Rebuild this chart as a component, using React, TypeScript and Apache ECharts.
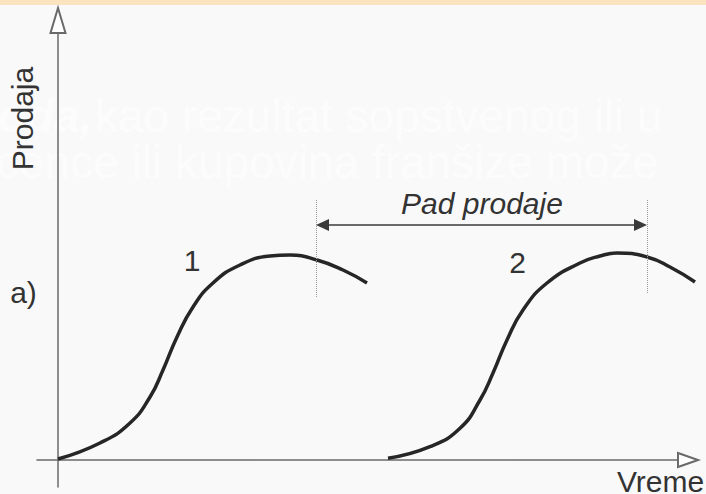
import React, { useEffect, useRef } from 'react';
import * as echarts from 'echarts';

// Product 1 sales curve (time, sales) in chart units
const curve1Time = [0, 4.2, 7.2, 9.2, 10.5, 11.9, 13.5, 15.5, 18.2, 21.2, 23.2, 25.9, 28.5, 30.9];
const curve1Sales = [0.1, 1.7, 3.7, 6.3, 9.0, 12.3, 15.3, 17.7, 19.5, 20.4, 20.5, 20.0, 19.0, 17.7];
// Product 2 sales curve
const curve2Time = [33.0, 37.2, 40.2, 42.2, 43.5, 44.9, 46.5, 48.9, 52.2, 54.2, 55.9, 58.9, 61.2, 63.7];
const curve2Sales = [0.17, 1.33, 3.17, 6.0, 8.7, 12.0, 15.0, 17.7, 19.7, 20.4, 20.7, 20.3, 19.3, 17.8];

// Sales-drop span (time of decline start for each product) and its levels
const dropTimes = [25.8, 58.9];
const dropTop = [26, 26];
const dropBottom = [16.2, 16.7];
const dropArrowLevel = 23.5;

const curveLabels = ['1', '2'];
const axisNames = ['Prodaja', 'Vreme'];
const dropLabel = 'Pad prodaje';
const panelLabel = 'a)';
const backgroundLines = ['oda,', 'kao rezultat sopstvenog ili u', 'cence ili kupovina franšize može'];

const FONT = "'Liberation Sans', Arial, Helvetica, sans-serif";

function txt(text: string, x: number, y: number, style: any = {}, el: any = {}) {
  return {
    type: 'text',
    x,
    y,
    silent: true,
    ...el,
    style: {
      text,
      fontSize: 30,
      fontFamily: FONT,
      fill: '#333333',
      align: 'center',
      verticalAlign: 'middle',
      textAlign: 'center',
      textVerticalAlign: 'middle',
      ...style,
    },
  };
}

export default function App() {
  const ref = useRef<HTMLDivElement>(null);
  useEffect(() => {
    document.body.style.margin = '0';
    const chart = echarts.init(ref.current!, undefined, { renderer: 'svg' });
    const curveStyle = { color: '#262626', width: 3.5 };
    const axisCommon = {
      type: 'value',
      axisTick: { show: false },
      axisLabel: { show: false },
      splitLine: { show: false },
    };
    const faint = 'rgba(255,255,255,0.6)';
    chart.setOption({
      animation: false,
      backgroundColor: '#f9f9f9',
      grid: { left: 37, right: 8, top: 8, bottom: 7, containLabel: false },
      xAxis: {
        ...axisCommon,
        min: -2.1,
        max: 64,
        axisLine: {
          show: true,
          onZero: true,
          symbol: ['none', 'emptyTriangle'],
          symbolSize: [14, 20],
          symbolOffset: [0, -10],
          lineStyle: { color: '#6a6a6a', width: 1.5 },
        },
      },
      yAxis: {
        ...axisCommon,
        min: -2.7,
        max: 45.2,
        axisLine: {
          show: true,
          onZero: true,
          symbol: ['none', 'emptyTriangle'],
          symbolSize: [15, 25],
          symbolOffset: [0, -12.5],
          lineStyle: { color: '#6a6a6a', width: 1.5 },
        },
      },
      graphic: [
        { type: 'rect', silent: true, shape: { x: 0, y: 0, width: 706, height: 5 }, style: { fill: '#fae4c0' } },
        txt(backgroundLines[0], -2, 116, { fontSize: 46, fill: faint, fontWeight: 'bold', fontStyle: 'italic', align: 'left', textAlign: 'left' }),
        txt(backgroundLines[1], 95, 116, { fontSize: 46, fill: faint, align: 'left', textAlign: 'left' }),
        txt(backgroundLines[2], -4, 162, { fontSize: 46, fill: faint, align: 'left', textAlign: 'left' }),
        txt(axisNames[0], 22.5, 118.5, {}, { rotation: Math.PI / 2 }),
        txt(axisNames[1], 660.5, 481),
        txt(dropLabel, 482, 203, { fontStyle: 'italic' }),
        txt(curveLabels[0], 192, 260),
        txt(curveLabels[1], 517.5, 262.5),
        txt(panelLabel, 23.5, 292),
      ],
      series: [
        {
          type: 'line',
          data: curve1Time.map((t, i) => [t, curve1Sales[i]]),
          smooth: 0.5,
          symbol: 'none',
          silent: true,
          lineStyle: curveStyle,
        },
        {
          type: 'line',
          data: curve2Time.map((t, i) => [t, curve2Sales[i]]),
          smooth: 0.5,
          symbol: 'none',
          silent: true,
          lineStyle: curveStyle,
        },
        {
          type: 'line',
          data: [],
          silent: true,
          markLine: {
            silent: true,
            symbol: 'none',
            label: { show: false },
            data: [
              [
                { coord: [dropTimes[0], dropTop[0]], lineStyle: { type: 'dotted', color: '#9a9a9a', width: 1 } },
                { coord: [dropTimes[0], dropBottom[0]] },
              ],
              [
                { coord: [dropTimes[1], dropTop[1]], lineStyle: { type: 'dotted', color: '#9a9a9a', width: 1 } },
                { coord: [dropTimes[1], dropBottom[1]] },
              ],
              [
                {
                  coord: [dropTimes[0] + 0.65, dropArrowLevel],
                  symbol: 'triangle',
                  symbolSize: [12, 13],
                  lineStyle: { type: 'solid', color: '#3a3a3a', width: 1.5 },
                },
                { coord: [dropTimes[1] - 0.65, dropArrowLevel], symbol: 'triangle', symbolSize: [12, 13] },
              ],
            ],
          },
        },
      ],
    });
    return () => chart.dispose();
  }, []);
  return <div ref={ref} style={{ position: 'fixed', left: 0, top: 0, width: 706, height: 494 }} />;
}
